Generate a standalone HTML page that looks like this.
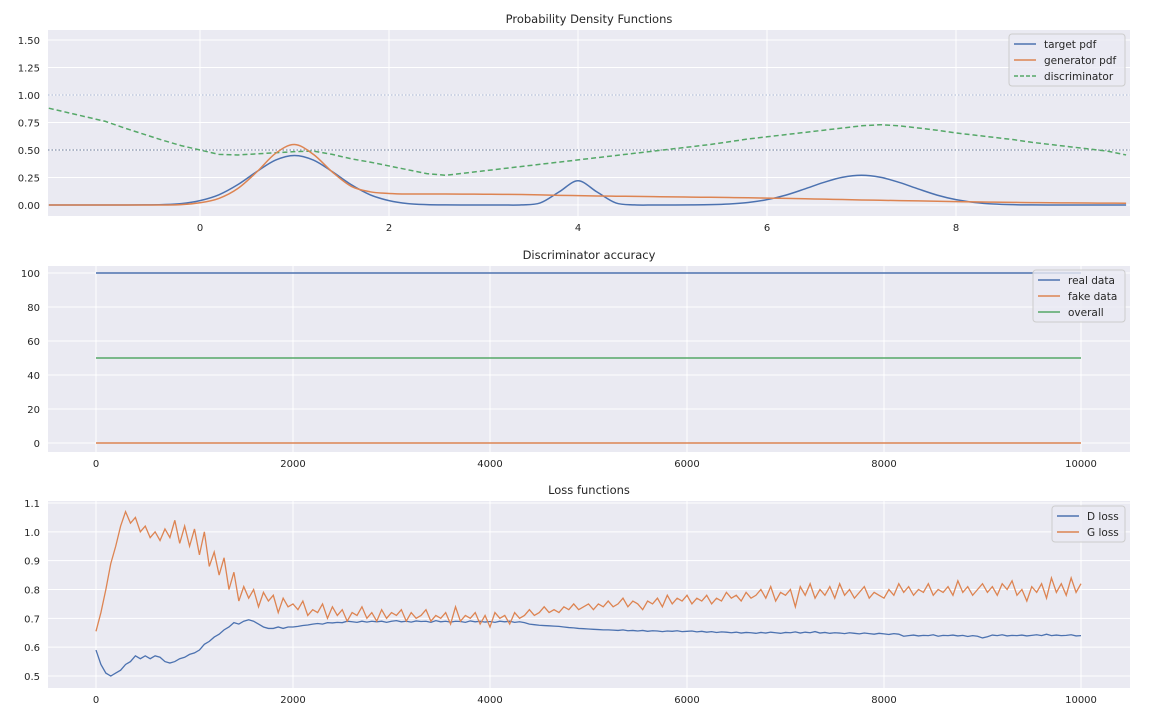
<!DOCTYPE html>
<html><head><meta charset="utf-8"><style>
body{margin:0;background:#fff;}
svg{display:block;font-family:"DejaVu Sans","Liberation Sans",sans-serif;}
</style></head><body>
<svg id="c" width="1152" height="720" viewBox="0 0 1152 720"></svg>
<script>
// ---- Panel 1 data (x step 0.2 from -1.6) ----
const pdfX0 = -1.6, pdfStep = 0.2;
const targetPdf = [0,0,0,0,0,0.0008,0.0036,0.0128,0.04,0.093,0.185,0.303,0.408,0.45,0.408,0.303,0.185,0.093,0.04,0.0128,0.0036,0.0008,0,0,0,0.0009,0.0187,0.119,0.22,0.119,0.0187,0.0009,0,0.0003,0.001,0.0033,0.0094,0.0228,0.0486,0.09,0.146,0.205,0.252,0.27,0.252,0.205,0.146,0.09,0.049,0.023,0.009,0.003,0.001,0,0,0,0,0];
const generatorPdf = [0,0,0,0,0,0,0,0.003,0.02,0.06,0.15,0.30,0.47,0.55,0.46,0.30,0.17,0.12,0.105,0.10,0.10,0.10,0.099,0.098,0.097,0.095,0.092,0.088,0.085,0.082,0.080,0.078,0.076,0.074,0.072,0.07,0.068,0.066,0.063,0.06,0.057,0.053,0.05,0.046,0.043,0.04,0.037,0.034,0.031,0.028,0.026,0.024,0.022,0.02,0.019,0.018,0.017,0.016];
const discPdf = [0.88,0.84,0.80,0.76,0.70,0.645,0.59,0.54,0.50,0.46,0.455,0.465,0.475,0.485,0.49,0.46,0.42,0.39,0.355,0.32,0.285,0.27,0.29,0.31,0.33,0.35,0.37,0.39,0.41,0.43,0.45,0.47,0.49,0.51,0.53,0.55,0.575,0.60,0.62,0.64,0.66,0.68,0.70,0.72,0.73,0.72,0.70,0.68,0.655,0.635,0.615,0.595,0.57,0.55,0.53,0.51,0.49,0.455];
const p1XTicks = [0,2,4,6,8];
const p1YTicks = [0,0.25,0.5,0.75,1.0,1.25,1.5];
// ---- Panel 2 data ----
const accIters = [0,10000];
const realAcc = [100,100];
const fakeAcc = [0,0];
const overallAcc = [50,50];
const p2YTicks = [0,20,40,60,80,100];
const iterTicks = [0,2000,4000,6000,8000,10000];
// ---- Panel 3 data (every 50 iterations) ----
const lossStep = 50;
const gLoss = [0.655,0.72,0.80,0.89,0.95,1.02,1.07,1.03,1.05,1.00,1.02,0.98,1.00,0.97,1.01,0.98,1.04,0.96,1.02,0.95,1.01,0.92,1.00,0.88,0.93,0.85,0.91,0.80,0.86,0.76,0.81,0.77,0.80,0.74,0.79,0.76,0.78,0.72,0.77,0.74,0.75,0.73,0.76,0.71,0.73,0.72,0.75,0.70,0.74,0.71,0.73,0.69,0.72,0.71,0.74,0.70,0.72,0.69,0.73,0.70,0.72,0.71,0.73,0.69,0.72,0.70,0.71,0.73,0.69,0.71,0.70,0.72,0.68,0.74,0.69,0.71,0.70,0.72,0.68,0.71,0.67,0.72,0.70,0.71,0.68,0.72,0.70,0.71,0.73,0.71,0.72,0.74,0.72,0.73,0.72,0.74,0.73,0.75,0.73,0.74,0.75,0.73,0.75,0.74,0.76,0.74,0.75,0.77,0.74,0.76,0.75,0.73,0.76,0.75,0.77,0.74,0.78,0.75,0.77,0.76,0.78,0.75,0.77,0.76,0.78,0.75,0.77,0.76,0.79,0.77,0.78,0.76,0.79,0.77,0.78,0.80,0.77,0.81,0.76,0.79,0.78,0.80,0.74,0.81,0.78,0.82,0.77,0.80,0.78,0.81,0.77,0.82,0.78,0.80,0.77,0.79,0.81,0.77,0.79,0.78,0.77,0.80,0.78,0.82,0.79,0.81,0.78,0.80,0.79,0.82,0.78,0.80,0.79,0.81,0.78,0.83,0.79,0.81,0.78,0.80,0.82,0.79,0.81,0.78,0.82,0.80,0.83,0.78,0.80,0.76,0.81,0.79,0.82,0.77,0.84,0.79,0.82,0.78,0.84,0.79,0.82];
const dLoss = [0.59,0.54,0.51,0.50,0.51,0.52,0.54,0.55,0.57,0.56,0.57,0.56,0.57,0.565,0.55,0.545,0.55,0.56,0.565,0.575,0.58,0.59,0.61,0.62,0.635,0.645,0.66,0.67,0.685,0.68,0.69,0.695,0.69,0.68,0.67,0.665,0.665,0.67,0.665,0.67,0.67,0.672,0.675,0.677,0.68,0.682,0.68,0.685,0.684,0.686,0.685,0.69,0.688,0.686,0.69,0.687,0.69,0.688,0.69,0.686,0.69,0.692,0.688,0.69,0.687,0.691,0.689,0.69,0.686,0.692,0.688,0.69,0.687,0.69,0.689,0.686,0.691,0.688,0.69,0.687,0.689,0.686,0.69,0.688,0.69,0.686,0.688,0.685,0.68,0.678,0.676,0.675,0.674,0.673,0.672,0.67,0.668,0.667,0.665,0.664,0.663,0.662,0.661,0.66,0.66,0.659,0.658,0.66,0.657,0.658,0.656,0.658,0.655,0.657,0.656,0.654,0.656,0.655,0.657,0.654,0.655,0.656,0.653,0.655,0.652,0.654,0.651,0.653,0.652,0.65,0.652,0.649,0.651,0.65,0.648,0.651,0.649,0.652,0.65,0.648,0.651,0.65,0.653,0.649,0.652,0.65,0.654,0.649,0.651,0.648,0.65,0.649,0.647,0.65,0.648,0.646,0.649,0.647,0.645,0.648,0.646,0.644,0.647,0.645,0.638,0.64,0.642,0.639,0.641,0.64,0.643,0.638,0.641,0.64,0.642,0.639,0.641,0.637,0.64,0.638,0.632,0.636,0.642,0.64,0.643,0.639,0.641,0.64,0.642,0.639,0.641,0.643,0.64,0.645,0.64,0.642,0.64,0.641,0.643,0.639,0.64];
const p3YTicks = [0.5,0.6,0.7,0.8,0.9,1.0,1.1];

const NS='http://www.w3.org/2000/svg';
const svg=document.getElementById('c');
function mk(tag,attrs,parent){const e=document.createElementNS(NS,tag);for(const k in attrs)e.setAttribute(k,attrs[k]);(parent||svg).appendChild(e);return e;}
function lin(d0,d1,r0,r1){return v=>r0+(v-d0)*(r1-r0)/(d1-d0);}
const C={blue:'#4c72b0',orange:'#dd8452',green:'#55a868'};

function panel(name,box,xs,ys,xt,yt,fmtX,fmtY,title){
  const g=mk('g',{});
  
  
  const bg=mk('rect',{x:box.l,y:box.t,width:box.r-box.l,height:box.b-box.t,fill:'#eaeaf2'},g);
  
  
  xt.forEach(v=>{const X=xs(v);
    const l=mk('line',{x1:X,x2:X,y1:box.t,y2:box.b,stroke:'#fff','stroke-width':1},g);
    
    
    const t=mk('text',{x:X,y:box.b+15,'font-size':10,fill:'#262626','text-anchor':'middle'},g);t.textContent=fmtX(v);
    
    
  });
  yt.forEach(v=>{const Y=ys(v);
    const l=mk('line',{x1:box.l,x2:box.r,y1:Y,y2:Y,stroke:'#fff','stroke-width':1},g);
    
    
    const t=mk('text',{x:box.l-8,y:Y+4,'font-size':10,fill:'#262626','text-anchor':'end'},g);t.textContent=fmtY(v);
    
    
  });
  const tt=mk('text',{x:(box.l+box.r)/2,y:box.t-7,'font-size':11.5,fill:'#262626','text-anchor':'middle'},g);tt.textContent=title;
  
  
  const cp=mk('clipPath',{id:'clip-'+name},g);mk('rect',{x:box.l,y:box.t,width:box.r-box.l,height:box.b-box.t},cp);
  return g;
}
function pathLinear(pts){return pts.map((p,i)=>(i?'L':'M')+p[0].toFixed(2)+','+p[1].toFixed(2)).join('');}
function pathSmooth(pts){let d='M'+pts[0][0]+','+pts[0][1];
  for(let i=0;i<pts.length-1;i++){const p0=pts[Math.max(0,i-1)],p1=pts[i],p2=pts[i+1],p3=pts[Math.min(pts.length-1,i+2)];
    const c1=[p1[0]+(p2[0]-p0[0])/6,p1[1]+(p2[1]-p0[1])/6],c2=[p2[0]-(p3[0]-p1[0])/6,p2[1]-(p3[1]-p1[1])/6];
    d+='C'+c1[0].toFixed(2)+','+c1[1].toFixed(2)+' '+c2[0].toFixed(2)+','+c2[1].toFixed(2)+' '+p2[0].toFixed(2)+','+p2[1].toFixed(2);}
  return d;}
function series(g,name,d,color,extra,clip){
  const p=mk('path',Object.assign({d:d,fill:'none',stroke:color,'stroke-width':1.5,'clip-path':'url(#clip-'+clip+')'},extra||{}),g);
  
  
}
function legend(g,name,x,y,w,items){
  const lg=mk('g',{},g);
  
  
  mk('rect',{x:x,y:y,width:w,height:items.length*16+4,rx:3,fill:'#eaeaf2','fill-opacity':0.8,stroke:'#cccccc'},lg);
  items.forEach((it,i)=>{const Y=y+10+i*16;
    const e=mk('g',{},lg);
    
    
    mk('line',{x1:x+5,x2:x+27,y1:Y,y2:Y,stroke:it.c,'stroke-width':1.5,'stroke-dasharray':it.dash||'none'},e);
    const t=mk('text',{x:x+35,y:Y+4,'font-size':10.5,fill:'#262626'},e);t.textContent=it.t;});
}

// Panel 1
const b1={l:48,r:1130,t:30,b:216};
const x1=lin(0,2,200,389), y1=lin(0,1.5,205,40);
const g1=panel('pdf-panel',b1,x1,y1,p1XTicks,p1YTicks,v=>String(v),v=>v.toFixed(2),'Probability Density Functions');
[[0.5,'#8793ad'],[1.0,'#b9c3dc']].forEach(r=>{const l=mk('line',{x1:b1.l,x2:b1.r,y1:y1(r[0]),y2:y1(r[0]),stroke:r[1],'stroke-width':1.2,'stroke-dasharray':'1.5,2'},g1);
  
  });
const pts=arr=>arr.map((v,i)=>[x1(pdfX0+i*pdfStep),y1(v)]);
series(g1,'discriminator-line',pathLinear(pts(discPdf)),C.green,{'stroke-dasharray':'5,3'},'pdf-panel');
series(g1,'target-pdf-line',pathSmooth(pts(targetPdf)),C.blue,{},'pdf-panel');
series(g1,'generator-pdf-line',pathSmooth(pts(generatorPdf)),C.orange,{},'pdf-panel');
legend(g1,'pdf-legend',1009,34,116,[{t:'target pdf',c:C.blue},{t:'generator pdf',c:C.orange},{t:'discriminator',c:C.green,dash:'4,2'}]);

// Panel 2
const b2={l:48,r:1130,t:266,b:452};
const x2=lin(0,10000,96,1081), y2=lin(0,100,443,273);
const g2=panel('accuracy-panel',b2,x2,y2,iterTicks,p2YTicks,v=>String(v),v=>String(v),'Discriminator accuracy');
const apts=arr=>arr.map((v,i)=>[x2(accIters[i]),y2(v)]);
series(g2,'real-data-line',pathLinear(apts(realAcc)),C.blue,{},'accuracy-panel');
series(g2,'fake-data-line',pathLinear(apts(fakeAcc)),C.orange,{},'accuracy-panel');
series(g2,'overall-line',pathLinear(apts(overallAcc)),C.green,{},'accuracy-panel');
legend(g2,'accuracy-legend',1033,270,92,[{t:'real data',c:C.blue},{t:'fake data',c:C.orange},{t:'overall',c:C.green}]);

// Panel 3
const b3={l:48,r:1130,t:501,b:688};
const x3=lin(0,10000,96,1081), y3=lin(0.5,1.1,676,503);
const g3=panel('loss-panel',b3,x3,y3,iterTicks,p3YTicks,v=>String(v),v=>v.toFixed(1),'Loss functions');
const lpts=arr=>arr.map((v,i)=>[x3(i*lossStep),y3(v)]);
series(g3,'d-loss-line',pathLinear(lpts(dLoss)),C.blue,{'stroke-width':1.3},'loss-panel');
series(g3,'g-loss-line',pathLinear(lpts(gLoss)),C.orange,{'stroke-width':1.3},'loss-panel');
legend(g3,'loss-legend',1052,506,73,[{t:'D loss',c:C.blue},{t:'G loss',c:C.orange}]);
</script>
</body></html>
